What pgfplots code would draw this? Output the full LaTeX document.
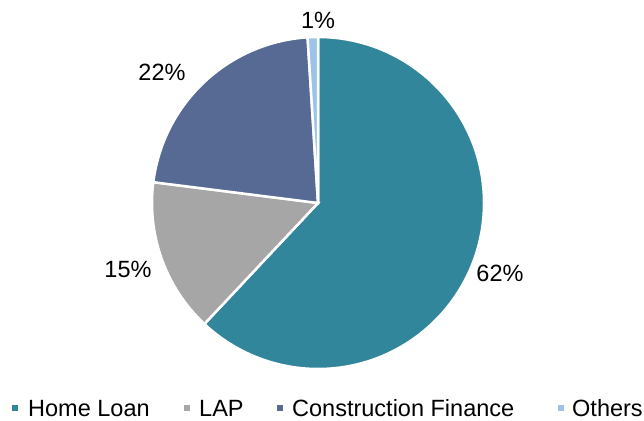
\documentclass[border=0pt]{standalone}
\usepackage{pgfplots}
\pgfplotsset{compat=1.18}
\usepackage{fontspec}
\setmainfont{Liberation Sans}
\definecolor{cHome}{HTML}{31869B}
\definecolor{cLAP}{HTML}{A6A6A6}
\definecolor{cCon}{HTML}{576A94}
\definecolor{cOth}{HTML}{9DC3E6}

% shares in percent
\def\pHome{62}
\def\pLAP{15}
\def\pCon{22}
\def\pOth{1}

\begin{document}
\begin{tikzpicture}[font=\fontsize{23.5}{27}\selectfont]
\begin{axis}[
  x=1pt, y=1pt, xmin=0, xmax=644, ymin=0, ymax=420,
  hide axis, clip=false,
]
\path (axis cs:0,0) rectangle (axis cs:644,420);
% pie, clockwise from 12 o'clock
\def\R{166pt}
\filldraw[cHome, draw=white, line width=2.5pt] (axis cs:318,217) -- ++(90:\R)
  arc[start angle=90, end angle={90-\pHome*3.6}, radius=\R] -- cycle;
\filldraw[cLAP, draw=white, line width=2.5pt] (axis cs:318,217) -- ++({90-\pHome*3.6}:\R)
  arc[start angle={90-\pHome*3.6}, end angle={90-(\pHome+\pLAP)*3.6}, radius=\R] -- cycle;
\filldraw[cCon, draw=white, line width=2.5pt] (axis cs:318,217) -- ++({90-(\pHome+\pLAP)*3.6}:\R)
  arc[start angle={90-(\pHome+\pLAP)*3.6}, end angle={90-(\pHome+\pLAP+\pCon)*3.6}, radius=\R] -- cycle;
\filldraw[cOth, draw=white, line width=2.5pt] (axis cs:318,217) -- ++({90-(\pHome+\pLAP+\pCon)*3.6}:\R)
  arc[start angle={90-(\pHome+\pLAP+\pCon)*3.6}, end angle=-270, radius=\R] -- cycle;
% data labels
\node at (axis cs:500,147) {\pHome\%};
\node at (axis cs:128,151) {\pLAP\%};
\node at (axis cs:162,348) {\pCon\%};
\node at (axis cs:318,400) {\pOth\%};
% legend
\fill[cHome] (axis cs:12,9) rectangle (axis cs:18,15);
\node[anchor=base west, inner sep=0] at (axis cs:28,4) {Home Loan};
\fill[cLAP] (axis cs:184,9) rectangle (axis cs:190,15);
\node[anchor=base west, inner sep=0] at (axis cs:199,4) {LAP};
\fill[cCon] (axis cs:277,9) rectangle (axis cs:283,15);
\node[anchor=base west, inner sep=0] at (axis cs:292,4) {Construction Finance};
\fill[cOth] (axis cs:558,9) rectangle (axis cs:564,15);
\node[anchor=base west, inner sep=0] at (axis cs:572,4) {Others};
\end{axis}
\end{tikzpicture}
\end{document}
